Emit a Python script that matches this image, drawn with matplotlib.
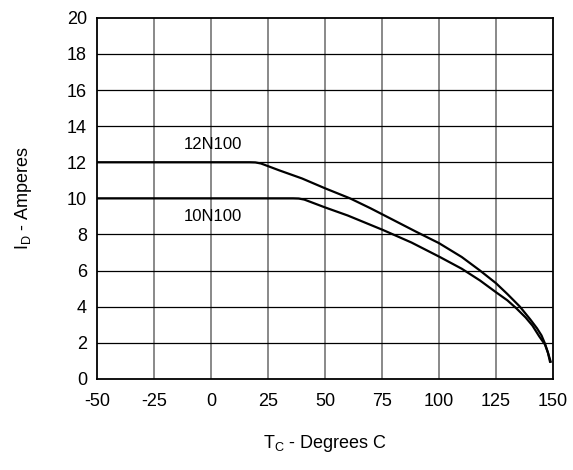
import matplotlib.pyplot as plt
import numpy as np

plt.rcParams['font.family'] = ['Liberation Sans', 'DejaVu Sans']
plt.rcParams['mathtext.fontset'] = 'custom'
plt.rcParams['mathtext.rm'] = 'Liberation Sans'
plt.rcParams['axes.unicode_minus'] = False

# Case temperature (C) vs drain current (A)
temp_12n = [-50, 0, 17, 19.5, 22, 30, 40, 50, 61, 70, 80, 90, 100, 110, 118, 125,
            130, 135.5, 140, 143, 145, 146.5, 147.8, 148.7]
amps_12n = [12, 12, 12, 11.99, 11.93, 11.55, 11.1, 10.56, 10.0, 9.45, 8.8, 8.15,
            7.52, 6.75, 6.0, 5.3, 4.7, 4.0, 3.3, 2.8, 2.4, 1.95, 1.45, 0.95]

temp_10n = [-50, 0, 36, 38.5, 41, 50, 60, 75.4, 88, 100.4, 110, 118, 125, 130,
            134, 138, 141, 144, 146.5, 147.8, 149]
amps_10n = [10, 10, 10, 9.99, 9.93, 9.5, 9.05, 8.25, 7.55, 6.75, 6.1, 5.45, 4.8,
            4.35, 3.9, 3.4, 2.95, 2.35, 1.9, 1.45, 0.95]

xticks = [-50, -25, 0, 25, 50, 75, 100, 125, 150]
yticks = list(range(0, 21, 2))

fig = plt.figure(figsize=(5.73, 4.70), dpi=100)
ax = fig.add_axes([0.169, 0.194, 0.796, 0.768])

ax.plot(temp_12n, amps_12n, color='black', lw=1.6, zorder=3, solid_joinstyle='round')
ax.plot(temp_10n, amps_10n, color='black', lw=1.6, zorder=3, solid_joinstyle='round')

ax.set_xlim(-50, 150)
ax.set_ylim(0, 20)
ax.set_xticks(xticks)
ax.set_yticks(yticks)
ax.tick_params(axis='x', length=0, labelsize=13, pad=10)
ax.tick_params(axis='y', length=0, labelsize=13, pad=7)

for x in xticks[1:-1]:
    ax.axvline(x, color='#808080', lw=1.3, zorder=1)
for y in yticks[1:-1]:
    ax.axhline(y, color='black', lw=0.9, zorder=1)

for s in ax.spines.values():
    s.set_linewidth(1.3)

ax.text(1, 13.0, '12N100', fontsize=12, ha='center', va='center')
ax.text(1, 9.0, '10N100', fontsize=12, ha='center', va='center')

ax.set_xlabel(r'T$_\mathregular{C}$ - Degrees C', fontsize=13, labelpad=17)
ax.set_ylabel(r'I$_\mathregular{D}$ - Amperes', fontsize=13, labelpad=24)

plt.savefig('out.png', dpi=100)
